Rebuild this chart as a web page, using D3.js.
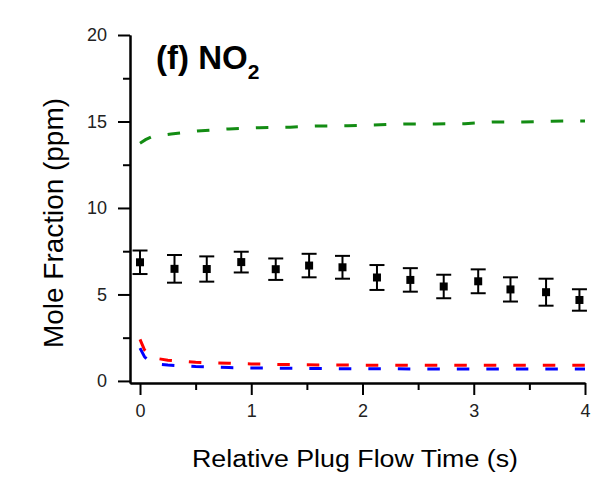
<!DOCTYPE html>
<meta charset="utf-8">
<style>
    body { margin: 0; background: #fff; }
    .axis path, .axis line { stroke: #000; stroke-width: 2px; }
    .axis text { font: 18px Arial, "Liberation Sans", sans-serif; fill: #222; }
    .title { font-family: Arial, "Liberation Sans", sans-serif; fill: #000; }
</style>
<svg width="597" height="477"></svg>
<script src="https://d3js.org/d3.v7.min.js"></script>
<script>

    // measured points (black squares with error bars)
    var expTime = [0.0, 0.31, 0.60, 0.91, 1.22, 1.52, 1.82, 2.13, 2.43, 2.73, 3.04, 3.33, 3.65, 3.95];
    var expMole = [6.86, 6.48, 6.47, 6.87, 6.46, 6.67, 6.57, 5.98, 5.84, 5.46, 5.76, 5.29, 5.13, 4.68];
    var expErr = [0.68, 0.80, 0.73, 0.60, 0.62, 0.68, 0.66, 0.72, 0.68, 0.68, 0.69, 0.70, 0.78, 0.62];

    // model curves
    var greenTime = [0, 0.05, 0.1, 0.28, 0.55, 0.8, 1.07, 1.35, 1.6, 1.87, 2.1, 2.4, 2.66, 2.92, 3.17, 3.44, 3.7, 4.0];
    var greenMole = [13.74, 13.95, 14.1, 14.28, 14.47, 14.57, 14.64, 14.67, 14.74, 14.75, 14.8, 14.86, 14.86, 14.87, 14.97, 14.97, 15.02, 15.03];

    var redTime = [0, 0.02, 0.04, 0.08, 0.15, 0.25, 0.5, 0.8, 1.0, 1.5, 2.0, 3.0, 4.0];
    var redMole = [2.4, 2.1, 1.8, 1.5, 1.3, 1.2, 1.08, 1.02, 0.98, 0.93, 0.91, 0.9, 0.9];

    var blueTime = [0, 0.02, 0.04, 0.08, 0.15, 0.25, 0.5, 0.8, 1.0, 1.5, 2.0, 3.0, 4.0];
    var blueMole = [1.9, 1.65, 1.4, 1.15, 0.98, 0.92, 0.83, 0.77, 0.75, 0.72, 0.7, 0.69, 0.69];

    var xMajor = [0, 1, 2, 3, 4], xMinor = [0.5, 1.5, 2.5, 3.5];
    var yMajor = [0, 5, 10, 15, 20], yMinor = [2.5, 7.5, 12.5, 17.5];

    var svg = d3.select("svg");

    var x = d3.scaleLinear().domain([-0.09, 4]).range([130, 585]);
    var y = d3.scaleLinear().domain([-0.12, 20]).range([383, 35]);

    // minor ticks first, then major axes on top
    svg.append("g").attr("class", "axis")
        .attr("transform", "translate(0,383)")
        .call(d3.axisBottom(x).tickValues(xMinor).tickSize(7).tickSizeOuter(0).tickFormat(""));
    svg.append("g").attr("class", "axis")
        .attr("transform", "translate(130,0)")
        .call(d3.axisLeft(y).tickValues(yMinor).tickSize(7).tickSizeOuter(0).tickFormat(""));

    svg.append("g").attr("class", "axis")
        .attr("transform", "translate(0,383)")
        .call(d3.axisBottom(x).tickValues(xMajor).tickSize(12).tickSizeOuter(0).tickPadding(9).tickFormat(d3.format("d")));
    svg.append("g").attr("class", "axis")
        .attr("transform", "translate(130,0)")
        .call(d3.axisLeft(y).tickValues(yMajor).tickSize(12).tickSizeOuter(0).tickPadding(11).tickFormat(d3.format("d")));

    svg.selectAll(".axis path, .axis line").attr("stroke-width", 2).attr("stroke", "#000");

    function curve(ts, vs, color) {
        var line = d3.line()
            .x(function (d) { return x(d[0]); })
            .y(function (d) { return y(d[1]); });
        svg.append("path")
            .datum(d3.zip(ts, vs))
            .attr("d", line)
            .attr("fill", "none")
            .attr("stroke", color)
            .attr("stroke-width", 3)
            .attr("stroke-dasharray", "12.5,17");
    }

    curve(greenTime, greenMole, "#138c13");
    curve(redTime, redMole, "#ff0000");
    curve(blueTime, blueMole, "#0000ff");

    var pts = d3.range(expTime.length).map(function (i) {
        return { t: expTime[i], v: expMole[i], e: expErr[i] };
    });

    var pg = svg.append("g").selectAll("g")
        .data(pts)
        .enter().append("g")
        .attr("stroke", "#000")
        .attr("stroke-width", 2);

    pg.append("line")
        .attr("x1", function (d) { return x(d.t); })
        .attr("x2", function (d) { return x(d.t); })
        .attr("y1", function (d) { return y(d.v + d.e); })
        .attr("y2", function (d) { return y(d.v - d.e); });
    pg.append("line")
        .attr("x1", function (d) { return x(d.t) - 7.5; })
        .attr("x2", function (d) { return x(d.t) + 7.5; })
        .attr("y1", function (d) { return y(d.v + d.e); })
        .attr("y2", function (d) { return y(d.v + d.e); });
    pg.append("line")
        .attr("x1", function (d) { return x(d.t) - 7.5; })
        .attr("x2", function (d) { return x(d.t) + 7.5; })
        .attr("y1", function (d) { return y(d.v - d.e); })
        .attr("y2", function (d) { return y(d.v - d.e); });
    pg.append("rect")
        .attr("x", function (d) { return x(d.t) - 4; })
        .attr("y", function (d) { return y(d.v) - 4; })
        .attr("width", 8)
        .attr("height", 8)
        .attr("stroke", "none")
        .attr("fill", "#000");

    // panel label
    var t = svg.append("text").attr("class", "title")
        .attr("x", 156).attr("y", 69)
        .style("font-weight", "bold").style("font-size", "33px");
    t.append("tspan").text("(f) NO");
    t.append("tspan").attr("dy", 10).style("font-size", "21px").text("2");

    // axis titles
    svg.append("text").attr("class", "title")
        .attr("x", 355).attr("y", 467)
        .attr("text-anchor", "middle")
        .attr("textLength", 326).attr("lengthAdjust", "spacingAndGlyphs")
        .style("font-size", "23px")
        .text("Relative Plug Flow Time (s)");

    svg.append("text").attr("class", "title")
        .attr("transform", "translate(63,223) rotate(-90)")
        .attr("text-anchor", "middle")
        .attr("textLength", 250).attr("lengthAdjust", "spacingAndGlyphs")
        .style("font-size", "28px")
        .text("Mole Fraction (ppm)");

</script>
